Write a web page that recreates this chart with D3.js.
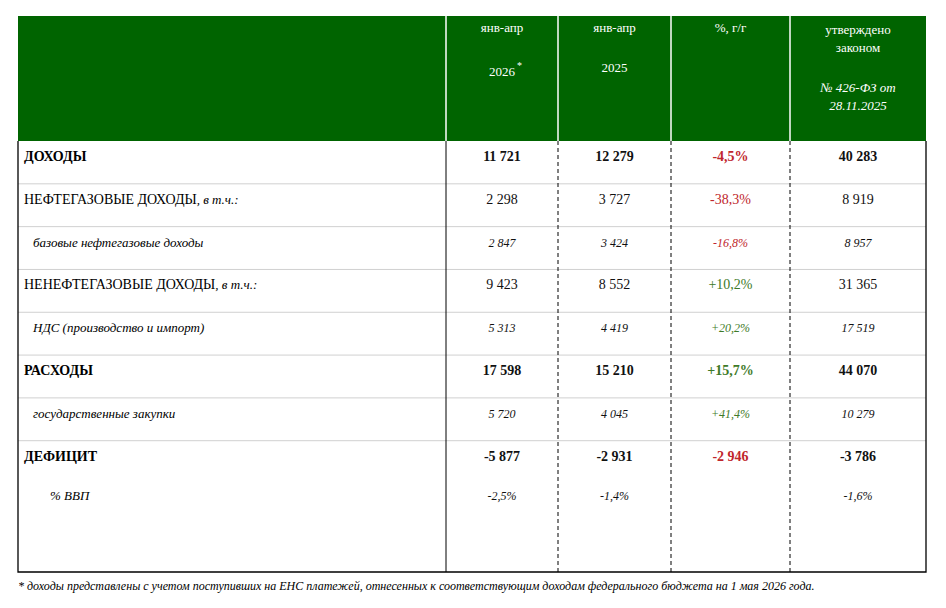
<!DOCTYPE html>
<html><head><meta charset="utf-8">
<script src="https://cdn.jsdelivr.net/npm/d3@7"></script>
<style>body{margin:0;background:#fff}svg{font-family:"Liberation Serif","Times New Roman",serif}</style>
</head><body><svg id="c" width="946" height="608"></svg>
<script>
const labels=["ДОХОДЫ","НЕФТЕГАЗОВЫЕ ДОХОДЫ","базовые нефтегазовые доходы","НЕНЕФТЕГАЗОВЫЕ ДОХОДЫ","НДС (производство и импорт)","РАСХОДЫ","государственные закупки","ДЕФИЦИТ","% ВВП"];
const suffix=["",", в т.ч.:","",", в т.ч.:","","","","",""];
const styles=["bold","normal","italic","normal","italic","bold","italic","bold","italic"];
const v2026=["11 721","2 298","2 847","9 423","5 313","17 598","5 720","-5 877","-2,5%"];
const v2025=["12 279","3 727","3 424","8 552","4 419","15 210","4 045","-2 931","-1,4%"];
const yoy=["-4,5%","-38,3%","-16,8%","+10,2%","+20,2%","+15,7%","+41,4%","-2 946",""];
const law=["40 283","8 919","8 957","31 365","17 519","44 070","10 279","-3 786","-1,6%"];
const svg=d3.select("#c");
const L=18,R=926,T0=16,hb=141;
const cols=[L,446,558,671,790,R];
const cx=i=>(cols[i]+cols[i+1])/2;
const y=d3.scaleLinear().domain([0,8]).range([141,483.5]);
const bottom=572;
const green="#006400";
svg.append("rect").attr("x",L).attr("y",T0).attr("width",R-L).attr("height",hb-T0).attr("fill",green);
[1,2,3,4].forEach(i=>svg.append("line").attr("x1",cols[i]).attr("x2",cols[i]).attr("y1",T0).attr("y2",hb).attr("stroke","#fff").attr("stroke-width",1.5));
const head=[[1,"янв-апр",32,false],[1,"2026",76,false],[2,"янв-апр",32,false],[2,"2025",72,false],[3,"%, г/г",32,false],[4,"утверждено",34,false],[4,"законом",52,false],[4,"№ 426-ФЗ от",92,true],[4,"28.11.2025",110,true]];
head.forEach(h=>svg.append("text").attr("x",cx(h[0])).attr("y",h[2]).attr("text-anchor","middle").attr("fill","#fff").attr("font-size",13).attr("font-style",h[3]?"italic":"normal").text(h[1]));
svg.append("text").attr("x",cx(1)+15).attr("y",69).attr("fill","#fff").attr("font-size",10).text("*");
d3.range(1,8).forEach(i=>svg.append("line").attr("x1",L).attr("x2",R).attr("y1",y(i)).attr("y2",y(i)).attr("stroke","#d0d0d0"));
svg.append("line").attr("x1",cols[1]).attr("x2",cols[1]).attr("y1",hb).attr("y2",bottom).attr("stroke","#000");
[2,3,4].forEach(i=>svg.append("line").attr("x1",cols[i]).attr("x2",cols[i]).attr("y1",hb).attr("y2",bottom).attr("stroke","#000").attr("stroke-dasharray","4,3"));
svg.append("path").attr("d",`M${L},${hb}V${bottom}H${R}V${hb}`).attr("fill","none").attr("stroke","#000").attr("stroke-width",1.3);
const rowY=i=>i<8?y(i)+20:y(7)+59;
labels.forEach((lab,i)=>{
  const st=styles[i];
  const lx=st==="italic"?(i===8?50:33):24;
  const t=svg.append("text").attr("x",lx).attr("y",rowY(i)).attr("font-size",st==="italic"?13:14)
    .attr("font-weight",st==="bold"?"bold":"normal").attr("font-style",st==="italic"?"italic":"normal").text(lab);
  if(suffix[i]) t.append("tspan").attr("font-style","italic").attr("font-size",13).text(suffix[i]);
  const vals=[v2026[i],v2025[i],yoy[i],law[i]];
  vals.forEach((v,j)=>{
    if(!v) return;
    let fill="#111";
    if(j===2) fill=v.startsWith("+")?"#3e7a28":"#c0262c";
    svg.append("text").attr("x",cx(j+1)).attr("y",rowY(i)).attr("text-anchor","middle").attr("font-size",st==="italic"?12:14)
      .attr("font-weight",st==="bold"?"bold":"normal").attr("font-style",st==="italic"?"italic":"normal").attr("fill",fill).text(v);
  });
});
svg.append("text").attr("x",18).attr("y",590).attr("font-size",12).attr("font-style","italic")
  .text("* доходы представлены с учетом поступивших на ЕНС платежей, отнесенных к соответствующим доходам федерального бюджета на 1 мая 2026 года.");
</script></body></html>
